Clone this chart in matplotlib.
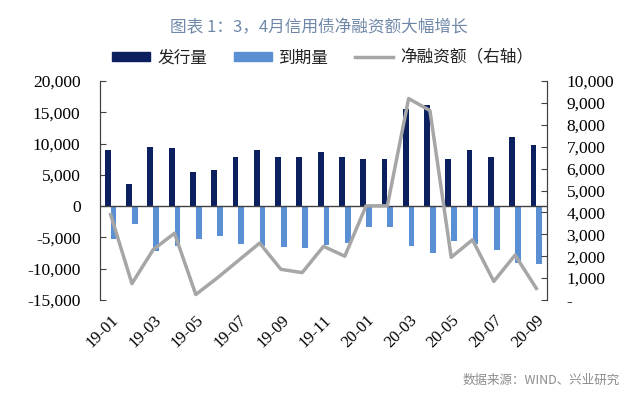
import matplotlib
matplotlib.use("Agg")
import matplotlib.pyplot as plt
from matplotlib.ticker import FuncFormatter, MultipleLocator
from matplotlib.patches import Patch
from matplotlib.lines import Line2D
import numpy as np

plt.rcParams['font.family'] = ['Noto Sans CJK SC', 'DejaVu Sans']

months = ['19-01', '19-02', '19-03', '19-04', '19-05', '19-06', '19-07',
          '19-08', '19-09', '19-10', '19-11', '19-12', '20-01', '20-02',
          '20-03', '20-04', '20-05', '20-06', '20-07', '20-08', '20-09']
issuance = [9000, 3600, 9500, 9300, 5400, 5700, 7900, 8900, 7900, 7900, 8700,
            7800, 7600, 7600, 15500, 16200, 7600, 8900, 7800, 11100, 9700]
maturity = [-5300, -2800, -7200, -6300, -5200, -4800, -6100, -6300, -6600,
            -6650, -6200, -5850, -3300, -3350, -6400, -7550, -5600, -6100,
            -7000, -9150, -9250]
net = [3900, 750, 2300, 3050, 250, 1000, 1800, 2600, 1400, 1250, 2450,
       2000, 4300, 4300, 9200, 8650, 1950, 2750, 850, 2050, 530]

c_issue = '#0c1f5e'
c_mat = '#5b8fd4'
c_net = '#a6a6a6'
c_axis = '#404040'
serif = 'Liberation Serif'

fig = plt.figure(figsize=(6.4, 3.97), dpi=100)
ax = fig.add_axes([100 / 640, 1 - 300 / 397, 447 / 640, 219 / 397])
ax2 = ax.twinx()

x = np.arange(len(months))
w = 0.27
ax.bar(x - w / 2, issuance, width=w, color=c_issue, zorder=2)
ax.bar(x + w / 2, maturity, width=w, color=c_mat, zorder=2)
ax.axhline(0, color=c_axis, lw=1, zorder=3)
ax2.plot(x, net, color=c_net, lw=2.5)

ax.set_xlim(-0.5, len(months) - 0.5)
ax.set_ylim(-15000, 20000)
ax2.set_ylim(0, 10000)
ax.yaxis.set_major_locator(MultipleLocator(5000))
ax2.yaxis.set_major_locator(MultipleLocator(1000))
ax.yaxis.set_major_formatter(FuncFormatter(lambda v, p: '{:,.0f}'.format(v)))
ax2.yaxis.set_major_formatter(
    FuncFormatter(lambda v, p: '-' if v == 0 else '{:,.0f}'.format(v)))

ax.set_xticks(x[::2])
ax.set_xticklabels(months[::2], rotation=45, ha='right',
                   rotation_mode='anchor', family=serif, fontsize=12)
ax.tick_params(axis='x', length=0, pad=9)
ax.tick_params(axis='y', direction='in', length=4, color=c_axis,
               labelsize=12.5, pad=14)
ax2.tick_params(axis='y', direction='in', length=4, color=c_axis,
                labelsize=12.5, pad=14)
for t in ax.get_yticklabels() + ax2.get_yticklabels():
    t.set_family(serif)

for a in (ax, ax2):
    a.spines['top'].set_visible(False)
    a.spines['bottom'].set_visible(False)
    a.spines['left'].set_color(c_axis)
    a.spines['right'].set_color(c_axis)

handles = [Patch(color=c_issue), Patch(color=c_mat),
           Line2D([], [], color=c_net, lw=2.5)]
labels = ['发行量', '到期量', '净融资额（右轴）']
fig.legend(handles, labels, loc='center', bbox_to_anchor=(0.504, 1 - 58 / 397),
           ncol=3, frameon=False, fontsize=12, handlelength=2.3,
           handleheight=0.45, handletextpad=0.4, columnspacing=1.6,
           labelcolor='#222222')

fig.text(0.498, 1 - 28 / 397, '图表 1：3，4月信用债净融资额大幅增长',
         ha='center', va='center', fontsize=12, color='#6f88a8')
fig.text(620 / 640, 1 - 380 / 397, '数据来源：WIND、兴业研究',
         ha='right', va='center', fontsize=9, color='#8c8c8c')

fig.savefig('out.png', dpi=100)
